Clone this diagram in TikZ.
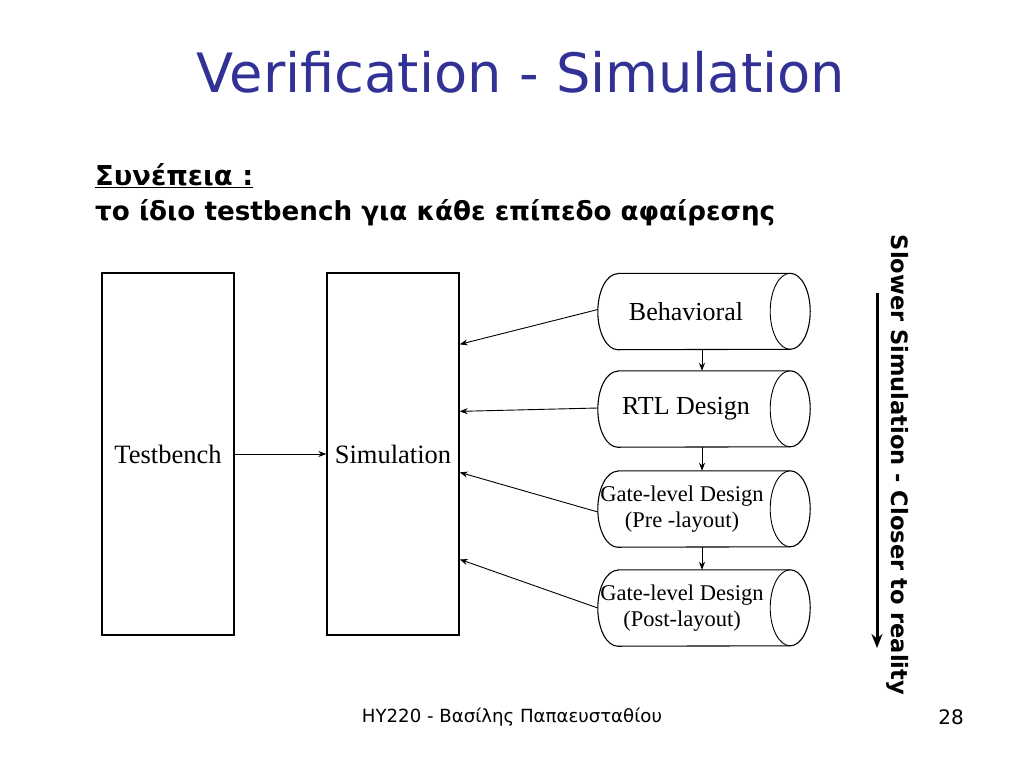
\documentclass[tikz,border=0pt]{standalone}
\usepackage{fontspec}
\setmainfont{Liberation Serif}
\newfontfamily\comic{DejaVu Sans}
\usetikzlibrary{arrows.meta,calc}
\definecolor{titleblue}{RGB}{50,50,150}
\newcommand{\mycyl}[2]{%
  \draw[line width=1.1pt] ($(#1.north west)+(20,0)$) -- ($(#1.north east)+(-20,0)$)
     arc[start angle=90,end angle=-90,x radius=20,y radius=#2]
     -- ($(#1.south west)+(20,0)$)
     arc[start angle=270,end angle=90,x radius=20,y radius=#2] -- cycle;
  \draw[line width=0.9pt] ($(#1.north east)+(-20,0)$) arc[start angle=90,end angle=270,x radius=20,y radius=#2];
}
\begin{document}
\begin{tikzpicture}[x=1pt,y=1pt,
  box/.style={draw, line width=1.3pt, minimum width=132pt, minimum height=362pt, inner sep=0pt, font=\fontsize{26.5}{28}\selectfont},
  cylbox/.style={minimum width=212pt, minimum height=76pt, inner sep=0pt},
  lbl/.style={font=\fontsize{26}{28}\selectfont, align=center, inner sep=0pt},
  lbltwo/.style={font=\fontsize{22.5}{26}\selectfont, align=center, inner sep=0pt},
  conn/.style={line width=0.9pt, -{Stealth[length=8pt,width=6pt]}},
]
\useasboundingbox (0,0) rectangle (1024,-768);
\fill[white] (0,0) rectangle (1024,-768);

% title and headings
\node[text=titleblue, inner sep=0pt] (title) at (521,-72)
  {\resizebox{648pt}{!}{\comic\fontsize{50}{55}\selectfont Verification - Simulation}};
\node[anchor=base west, inner sep=0pt] (h1) at (95,-185)
  {\resizebox{158pt}{!}{\comic\bfseries\fontsize{26}{30}\selectfont \underline{Συνέπεια :}}};
\node[anchor=base west, inner sep=0pt] (h2) at (95,-220)
  {\resizebox{680pt}{!}{\comic\bfseries\fontsize{26}{30}\selectfont το ίδιο testbench για κάθε επίπεδο αφαίρεσης}};

% boxes
\node[box] (tb) at (168,-454) {Testbench};
\node[box] (sim) at (393,-454) {Simulation};
\draw[conn] (tb.east) -- (sim.west);

% cylinders
\node[cylbox] (c1) at (704,-311.5) {};
\node[cylbox] (c2) at (704,-409) {};
\node[cylbox] (c3) at (704,-509) {};
\node[cylbox] (c4) at (704,-608) {};
\mycyl{c1}{38}
\mycyl{c2}{38}
\mycyl{c3}{38}
\mycyl{c4}{38}
\node[lbl] (t1) at ($(c1.center)+(-18,0)$) {Behavioral};
\node[lbl] (t2) at ($(c2.center)+(-18,0)$) {RTL Design};
\node[lbltwo] (t3) at ($(c3.center)+(-22,0)$) {Gate-level Design\\(Pre -layout)};
\node[lbltwo] (t4) at ($(c4.center)+(-22,0)$) {Gate-level Design\\(Post-layout)};

\draw[conn] ($(c1.south)+(-2,0)$) -- ($(c2.north)+(-2,0)$);
\draw[conn] ($(c2.south)+(-2,0)$) -- ($(c3.north)+(-2,0)$);
\draw[conn] ($(c3.south)+(-2,0)$) -- ($(c4.north)+(-2,0)$);

\draw[conn] ($(c1.west)+(0,2)$) -- ($(sim.north east)+(0,-72)$);
\draw[conn] ($(c2.west)+(0,1)$) -- ($(sim.north east)+(0,-139)$);
\draw[conn] ($(c3.west)+(0,-3)$) -- ($(sim.north east)+(0,-200)$);
\draw[conn] ($(c4.west)+(0,0)$) -- ($(sim.north east)+(0,-287)$);

% right side arrow and text
\coordinate (ra) at (877,-293);
\coordinate (rb) at (877,-648);
\draw[line width=3pt, -{Stealth[length=14pt,width=11pt]}] (ra) -- (rb);
\node[rotate=-90, inner sep=0pt] (side) at (898,-465)
  {\resizebox{460pt}{!}{\comic\bfseries\fontsize{24}{28}\selectfont Slower Simulation - Closer to reality}};

% footer
\node[inner sep=0pt] (foot) at (512,-717)
  {\resizebox{300pt}{!}{\comic\fontsize{18}{22}\selectfont HY220 - Βασίλης Παπαευσταθίου}};
\node[inner sep=0pt, font=\comic\fontsize{20}{24}\selectfont] (page) at (951,-717) {28};
\end{tikzpicture}
\end{document}
